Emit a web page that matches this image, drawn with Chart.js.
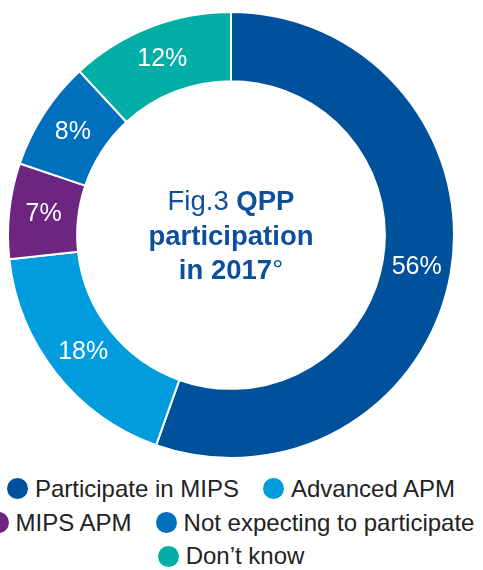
<!DOCTYPE html>
<html lang="en">
<head>
<meta charset="UTF-8" />
<title>QPP participation in 2017</title>
<script src="https://cdn.jsdelivr.net/npm/chart.js"></script>
<style>
  html, body {
    margin: 0; padding: 0; width: 483px; height: 570px;
    background: #fff; overflow: hidden;
    font-family: 'Liberation Sans', Arial, sans-serif;
  }
  #wrap { position: absolute; left: 7px; top: 10.5px; width: 448px; height: 448px; }
  #centre {
    position: absolute; left: 131px; top: 184px; width: 200px;
    text-align: center; color: #0d4f9b; font-size: 27.5px; line-height: 34.5px;
  }
  #centre b { font-weight: bold; }
  #legend {
    position: absolute; left: -29px; top: 472px; width: 520px;
    display: flex; flex-wrap: wrap; justify-content: center;
    column-gap: 24px; font-size: 24px; line-height: 33.7px; color: #222;
  }
  .item { display: inline-flex; align-items: center; white-space: nowrap; }
  .dot { width: 21px; height: 21px; border-radius: 50%; margin-right: 7px; flex-shrink: 0; }
</style>
</head>
<body>

<div id="wrap"><canvas id="donut"></canvas></div>
<div id="centre">Fig.3 <b>QPP</b><br><b>participation</b><br><b>in 2017</b>°</div>
<div id="legend"></div>

<script>
  const categories = ['Participate in MIPS', 'Advanced APM', 'MIPS APM', 'Not expecting to participate', 'Don’t know'];
  const shares = [56, 18, 7, 8, 12];
  const sliceColors = ['#00519b', '#009cdd', '#6c2580', '#0070bd', '#00aea6'];

  // white percent labels in the middle of each slice
  const sliceLabels = {
    id: 'sliceLabels',
    afterDatasetsDraw(chart) {
      const ctx = chart.ctx;
      const arcs = chart.getDatasetMeta(0).data;
      ctx.save();
      ctx.fillStyle = '#fff';
      ctx.font = "25px 'Liberation Sans', Arial, sans-serif";
      ctx.textAlign = 'center';
      ctx.textBaseline = 'middle';
      arcs.forEach((arc, i) => {
        const p = arc.tooltipPosition();
        ctx.fillText(shares[i] + '%', p.x, p.y);
      });
      ctx.restore();
    }
  };

  new Chart(document.getElementById('donut'), {
    type: 'doughnut',
    data: {
      labels: categories,
      datasets: [{
        data: shares,
        backgroundColor: sliceColors,
        borderColor: '#fff',
        borderWidth: 2
      }]
    },
    options: {
      responsive: true,
      maintainAspectRatio: false,
      animation: false,
      cutout: '69%',
      layout: { padding: 0 },
      plugins: { legend: { display: false }, tooltip: { enabled: false } }
    },
    plugins: [sliceLabels]
  });

  const legend = document.getElementById('legend');
  categories.forEach((name, i) => {
    const item = document.createElement('span');
    item.className = 'item';
    item.innerHTML = `<span class="dot" style="background:${sliceColors[i]}"></span>${name}`;
    legend.appendChild(item);
  });
</script>

</body>
</html>
